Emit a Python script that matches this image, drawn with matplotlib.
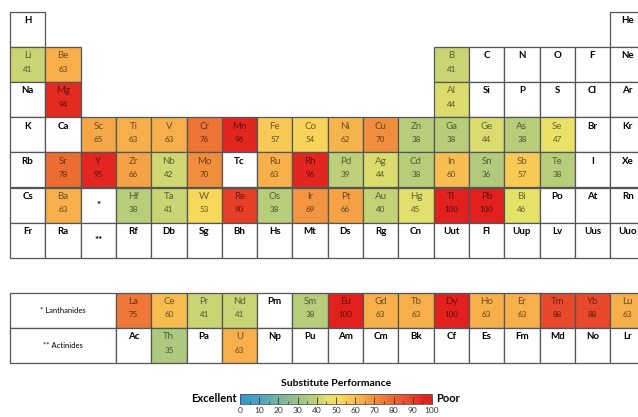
import numpy as np
import matplotlib
matplotlib.use('Agg')
import matplotlib.pyplot as plt
from matplotlib.colors import LinearSegmentedColormap, Normalize, to_rgb
from matplotlib.patches import Rectangle
import matplotlib.cm as cm

plt.rcParams['font.family'] = ['Lato', 'DejaVu Sans']

# main table, one list per period (18 groups, '' = no element)
sym_p1 = ['H'] + [''] * 16 + ['He']
val_p1 = [None] * 18
sym_p2 = ['Li', 'Be'] + [''] * 10 + ['B', 'C', 'N', 'O', 'F', 'Ne']
val_p2 = [41, 63] + [None] * 10 + [41, None, None, None, None, None]
sym_p3 = ['Na', 'Mg'] + [''] * 10 + ['Al', 'Si', 'P', 'S', 'Cl', 'Ar']
val_p3 = [None, 94] + [None] * 10 + [44, None, None, None, None, None]
sym_p4 = ['K', 'Ca', 'Sc', 'Ti', 'V', 'Cr', 'Mn', 'Fe', 'Co', 'Ni', 'Cu', 'Zn',
          'Ga', 'Ge', 'As', 'Se', 'Br', 'Kr']
val_p4 = [None, None, 65, 63, 63, 76, 96, 57, 54, 62, 70, 38,
          38, 44, 38, 47, None, None]
sym_p5 = ['Rb', 'Sr', 'Y', 'Zr', 'Nb', 'Mo', 'Tc', 'Ru', 'Rh', 'Pd', 'Ag', 'Cd',
          'In', 'Sn', 'Sb', 'Te', 'I', 'Xe']
val_p5 = [None, 78, 95, 66, 42, 70, None, 63, 96, 39, 44, 38,
          60, 36, 57, 38, None, None]
sym_p6 = ['Cs', 'Ba', '*', 'Hf', 'Ta', 'W', 'Re', 'Os', 'Ir', 'Pt', 'Au', 'Hg',
          'Tl', 'Pb', 'Bi', 'Po', 'At', 'Rn']
val_p6 = [None, 63, None, 38, 41, 53, 90, 38, 69, 66, 40, 45,
          100, 100, 46, None, None, None]
sym_p7 = ['Fr', 'Ra', '**', 'Rf', 'Db', 'Sg', 'Bh', 'Hs', 'Mt', 'Ds', 'Rg', 'Cn',
          'Uut', 'Fl', 'Uup', 'Lv', 'Uus', 'Uuo']
val_p7 = [None] * 18

# f-block
lanth_sym = ['La', 'Ce', 'Pr', 'Nd', 'Pm', 'Sm', 'Eu', 'Gd', 'Tb', 'Dy', 'Ho',
             'Er', 'Tm', 'Yb', 'Lu']
lanth_val = [75, 60, 41, 41, None, 38, 100, 63, 63, 100, 63, 63, 88, 88, 63]
actin_sym = ['Ac', 'Th', 'Pa', 'U', 'Np', 'Pu', 'Am', 'Cm', 'Bk', 'Cf', 'Es',
             'Fm', 'Md', 'No', 'Lr']
actin_val = [None, 35, None, 63, None, None, None, None, None, None, None,
             None, None, None, None]
fblock_labels = ['* Lanthanides', '** Actinides']

cbar_ticks = list(range(0, 101, 10))

cmap = LinearSegmentedColormap.from_list('subst', [
    (0.00, '#2e96d0'), (0.10, '#4aa5c0'), (0.20, '#78b4a4'), (0.30, '#9cc286'),
    (0.38, '#b8cd7a'), (0.42, '#d0d772'), (0.46, '#e6e26a'), (0.52, '#f6dc5c'),
    (0.57, '#f8c955'), (0.63, '#f6b04a'), (0.70, '#f18f3e'), (0.78, '#ec6c32'),
    (0.88, '#e84a2a'), (0.95, '#e3261f'), (1.00, '#e2201d')])
norm = Normalize(0, 100)

fig = plt.figure(figsize=(6.38, 4.17), dpi=100)
ax = fig.add_axes([0, 0, 1, 1])
cw, ch = 35.3, 35.1
ax.set_xlim(-10 / cw, (638 - 10) / cw)
ax.set_ylim((417 - 12) / ch, -12 / ch)
ax.axis('off')


def cell(x, y, sym, val, w=1.0):
    if val is None:
        fc = 'white'
        sc = nc = 'black'
    else:
        fc = cmap(norm(val))
        sc = tuple(np.array(to_rgb(fc)) * 0.45)
        nc = tuple(np.array(to_rgb(fc)) * 0.38)
    ax.add_patch(Rectangle((x, y), w, 1, facecolor=fc, edgecolor='#555555', lw=0.9))
    if sym.startswith('*'):
        ax.text(x + w / 2, y + 0.5, sym, ha='center', va='center', fontsize=7,
                fontweight='bold', color='black')
        return
    ax.text(x + w / 2, y + 0.25, sym, ha='center', va='center', fontsize=7,
            color=sc, fontweight='bold' if val is None else 'normal')
    if val is not None:
        ax.text(x + w / 2, y + 0.63, str(val), ha='center', va='center',
                fontsize=5.8, color=nc)


rows_sym = [sym_p1, sym_p2, sym_p3, sym_p4, sym_p5, sym_p6, sym_p7]
rows_val = [val_p1, val_p2, val_p3, val_p4, val_p5, val_p6, val_p7]
for r, (syms, vals) in enumerate(zip(rows_sym, rows_val)):
    for c, (s, v) in enumerate(zip(syms, vals)):
        if s == '':
            continue
        cell(c, r, s, v)

for r, (lab, syms, vals) in enumerate(zip(fblock_labels, [lanth_sym, actin_sym],
                                          [lanth_val, actin_val])):
    y = 8 + r
    ax.add_patch(Rectangle((0, y), 3, 1, facecolor='white', edgecolor='#555555', lw=0.9))
    ax.text(1.5, y + 0.5, lab, ha='center', va='center', fontsize=5.5)
    for c, (s, v) in enumerate(zip(syms, vals)):
        cell(3 + c, y, s, v)

# colour scale
cax = fig.add_axes([240 / 638, 1 - 404 / 417, 192 / 638, 10 / 417])
cb = fig.colorbar(cm.ScalarMappable(norm=norm, cmap=cmap), cax=cax,
                  orientation='horizontal', ticks=cbar_ticks)
cb.outline.set_edgecolor('#555555')
cb.outline.set_linewidth(0.6)
cax.set_xticks(range(5, 100, 10), minor=True)
cax.tick_params(axis='x', which='major', direction='in', length=5, width=0.6,
                labelsize=6, pad=2, colors='#333333')
cax.tick_params(axis='x', which='minor', direction='in', length=2.5, width=0.5,
                colors='#333333')
fig.text(336 / 638, 1 - 384 / 417, 'Substitute Performance', ha='center',
         va='center', fontsize=7.5, fontweight='bold')
fig.text(237 / 638, 1 - 399 / 417, 'Excellent', ha='right', va='center',
         fontsize=8, fontweight='bold')
fig.text(436 / 638, 1 - 399 / 417, 'Poor', ha='left', va='center',
         fontsize=8, fontweight='bold')

fig.savefig('out.png', dpi=100)
